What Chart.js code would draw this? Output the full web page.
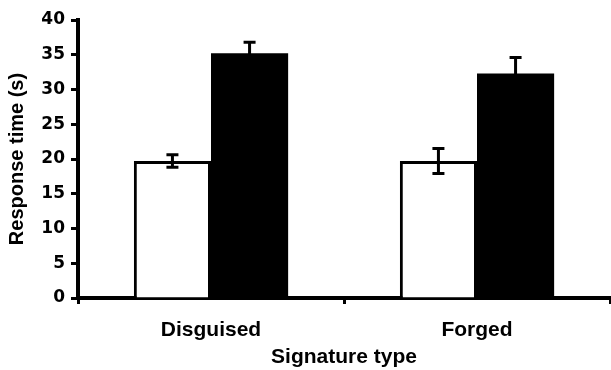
<!DOCTYPE html>
<html>
<head>
<meta charset="utf-8">
<script src="https://cdn.jsdelivr.net/npm/chart.js@4"></script>
<style>
  html, body { margin: 0; padding: 0; background: #fff; }
  canvas { display: block; }
</style>
</head>
<body>
<canvas id="grafica" width="611" height="370"></canvas>
<script>
const categorias = ['Disguised', 'Forged'];
const serie_blanca = [19.7, 19.7];
const error_blanca = [0.9, 1.8];
const serie_negra = [35.2, 32.3];
const error_negra = [1.6, 2.3];
const ticks_y = [0, 5, 10, 15, 20, 25, 30, 35, 40];

// dibuja las barras de error usando las escalas del grafico
const barrasError = {
    id: 'barrasError',
    afterDatasetsDraw(chart) {
        const ctx = chart.ctx;
        const y = chart.scales.y;
        ctx.save();
        ctx.strokeStyle = '#000';
        ctx.lineWidth = 3;
        chart.data.datasets.forEach((ds, d) => {
            const meta = chart.getDatasetMeta(d);
            meta.data.forEach((bar, i) => {
                const v = ds.data[i];
                const e = ds.errores[i];
                const top = y.getPixelForValue(v + e);
                const bottom = y.getPixelForValue(v - e);
                const cap = 6;
                ctx.beginPath();
                ctx.moveTo(bar.x, top);
                ctx.lineTo(bar.x, bottom);
                ctx.moveTo(bar.x - cap, top);
                ctx.lineTo(bar.x + cap, top);
                ctx.moveTo(bar.x - cap, bottom);
                ctx.lineTo(bar.x + cap, bottom);
                ctx.stroke();
            });
        });
        ctx.restore();
    }
};

new Chart(document.getElementById('grafica').getContext('2d'), {
    type: 'bar',
    data: {
        labels: categorias,
        datasets: [{
            data: serie_blanca,
            errores: error_blanca,
            backgroundColor: '#fff',
            borderColor: '#000',
            borderWidth: 3
        }, {
            data: serie_negra,
            errores: error_negra,
            backgroundColor: '#000',
            borderColor: '#000',
            borderWidth: 0
        }]
    },
    options: {
        responsive: false,
        animation: false,
        devicePixelRatio: 1,
        categoryPercentage: 0.58,
        barPercentage: 1.0,
        layout: {
            padding: { top: 20, right: 1, bottom: 0, left: 0 }
        },
        scales: {
            x: {
                afterFit: s => { s.height = 72; },
                grid: {
                    drawOnChartArea: false,
                    tickLength: 6,
                    tickWidth: 3,
                    tickColor: '#000'
                },
                border: { color: '#000', width: 4 },
                ticks: {
                    color: '#000',
                    padding: 14,
                    font: { family: 'Liberation Sans', weight: 'bold', size: 21 }
                },
                title: {
                    display: true,
                    text: 'Signature type',
                    color: '#000',
                    padding: { top: 0, bottom: 0 },
                    font: { family: 'Liberation Sans', weight: 'bold', size: 21 }
                }
            },
            y: {
                min: 0,
                max: 40,
                afterFit: s => { s.width = 78; },
                afterBuildTicks: s => { s.ticks = ticks_y.map(v => ({ value: v })); },
                grid: {
                    drawOnChartArea: false,
                    tickLength: 7,
                    tickWidth: 3,
                    tickColor: '#000'
                },
                border: { color: '#000', width: 4 },
                ticks: {
                    color: '#000',
                    padding: 6,
                    font: { family: 'DejaVu Sans', weight: 'bold', size: 17 }
                },
                title: {
                    display: true,
                    text: 'Response time (s)',
                    color: '#000',
                    padding: { top: 5, bottom: 0 },
                    font: { family: 'Liberation Sans', weight: 'bold', size: 20 }
                }
            }
        },
        plugins: {
            legend: { display: false },
            tooltip: { enabled: false }
        }
    },
    plugins: [barrasError]
});
</script>
</body>
</html>
